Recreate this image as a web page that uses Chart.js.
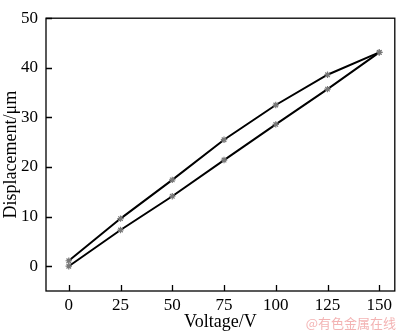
<!DOCTYPE html>
<html>
<head>
<meta charset="utf-8">
<script src="https://cdn.jsdelivr.net/npm/chart.js@4/dist/chart.umd.min.js"></script>
<style>
  html, body { margin: 0; padding: 0; background: #fff; }
  #wrap { width: 400px; height: 333px; position: relative; }
</style>
</head>
<body>
<div id="wrap"><canvas id="myChart" width="400" height="333"></canvas></div>
<script>
// voltage steps, rising then falling
var voltageUp = [0, 25, 50, 75, 100, 125, 150];
var dispUp = [0, 7.3, 14.1, 21.4, 28.6, 35.7, 43.1];
var voltageDown = [150, 125, 100, 75, 50, 25, 0];
var dispDown = [43.1, 38.6, 32.5, 25.5, 17.4, 9.6, 1.1];

var xTicks = [0, 25, 50, 75, 100, 125, 150];
var yTicks = [0, 10, 20, 30, 40, 50];

function toPoints(xs, ys){
  var pts = [];
  for (let i = 0; i < xs.length; i++) {
    pts.push({x: xs[i], y: ys[i]});
  }
  return pts;
}

var serif = "'Liberation Serif', 'Times New Roman', serif";

// frame + inward tick marks + watermark
var framePlugin = {
  id: 'frame',
  afterDraw: function(chart){
    var ctx = chart.ctx;
    var a = chart.chartArea;
    var xs = chart.scales.x, ys = chart.scales.y;
    ctx.save();
    ctx.strokeStyle = '#000';
    ctx.lineWidth = 1.3;
    ctx.strokeRect(a.left, a.top, a.right - a.left, a.bottom - a.top);
    ctx.beginPath();
    xTicks.forEach(function(v){
      var px = Math.round(xs.getPixelForValue(v)) + 0.5;
      ctx.moveTo(px, a.bottom);
      ctx.lineTo(px, a.bottom - 6);
    });
    yTicks.forEach(function(v){
      var py = Math.round(ys.getPixelForValue(v)) + 0.5;
      ctx.moveTo(a.left, py);
      ctx.lineTo(a.left + 6, py);
    });
    ctx.stroke();
    ctx.fillStyle = 'rgba(240, 160, 160, 0.8)';
    ctx.font = "13px 'Noto Sans CJK SC', sans-serif";
    ctx.textAlign = 'right';
    ctx.textBaseline = 'middle';
    ctx.fillText('@有色金属在线', 396, 323);
    ctx.restore();
  }
};

var ctx = document.getElementById('myChart').getContext('2d');
var myChart = new Chart(ctx, {
  type: 'scatter',
  data: {
    datasets: [{
      label: 'up',
      data: toPoints(voltageUp, dispUp),
      showLine: true,
      borderColor: '#000',
      borderWidth: 2,
      pointStyle: 'star',
      pointRadius: 3.2,
      pointBorderColor: '#777',
      pointBorderWidth: 1.2,
      pointBackgroundColor: '#777'
    }, {
      label: 'down',
      data: toPoints(voltageDown, dispDown),
      showLine: true,
      borderColor: '#000',
      borderWidth: 2,
      pointStyle: 'star',
      pointRadius: 3.2,
      pointBorderColor: '#777',
      pointBorderWidth: 1.2,
      pointBackgroundColor: '#777'
    }]
  },
  options: {
    responsive: false,
    animation: false,
    layout: { padding: { top: 4, right: 5, left: 0, bottom: 0 } },
    plugins: { legend: { display: false }, tooltip: { enabled: false } },
    scales: {
      x: {
        type: 'linear',
        min: -11,
        max: 157.5,
        grid: { display: false, drawTicks: false },
        border: { display: false },
        afterBuildTicks: function(scale){
          scale.ticks = xTicks.map(function(v){ return {value: v}; });
        },
        afterFit: function(scale){ scale.height = 42; },
        ticks: { color: '#000', font: { family: serif, size: 17 }, padding: 4, maxRotation: 0 },
        title: { display: true, text: 'Voltage/V', color: '#000', font: { family: serif, size: 18 }, padding: { top: 0, bottom: 0 } }
      },
      y: {
        min: -5,
        max: 50,
        grid: { display: false, drawTicks: false },
        border: { display: false },
        afterBuildTicks: function(scale){
          scale.ticks = yTicks.map(function(v){ return {value: v}; });
        },
        afterFit: function(scale){ scale.width = 46; },
        ticks: { color: '#000', font: { family: serif, size: 17 }, padding: 8 },
        title: { display: true, text: 'Displacement/\u03bcm', color: '#000', font: { family: serif, size: 18 }, padding: { top: 0, bottom: 0 } }
      }
    }
  },
  plugins: [framePlugin]
});
</script>
</body>
</html>
